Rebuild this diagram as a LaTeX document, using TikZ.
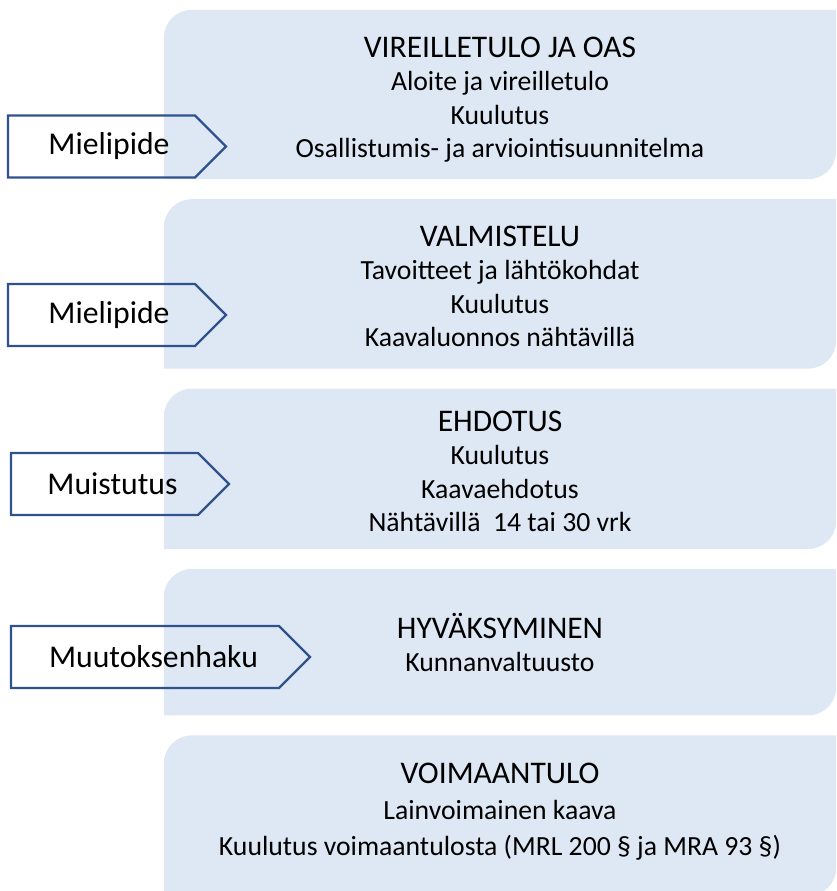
\documentclass[tikz,border=0pt]{standalone}
\usepackage{fontspec}
\setmainfont{Carlito}
\usetikzlibrary{positioning,shapes.symbols,backgrounds}
\definecolor{vaaleansininen}{HTML}{DEE8F4}
\definecolor{tummansininen}{HTML}{2F528F}
\newcommand{\otsikko}[1]{{\fontsize{31.5}{33}\selectfont\rule{0pt}{33.5pt}#1}}

\begin{document}
\begin{tikzpicture}[
        x=1pt, y=1pt,
        node distance=20pt,
        vaihe/.style={minimum width=672pt, align=center, inner sep=0pt, text depth=8pt, font=\fontsize{27.7}{33.5}\selectfont},
        palaute/.style={signal, signal to=east, signal pointer angle=90, draw=tummansininen, line width=2.2pt, inner sep=0pt, minimum height=62pt, font=\fontsize{31.7}{36}\selectfont}
    ]
        \useasboundingbox (0,0) rectangle (836,-891);

        % Vaiheet
        \node [vaihe, minimum height=169pt] (vireille) at (500,-94.5) {\otsikko{VIREILLETULO JA OAS}\\ Aloite ja vireilletulo\\ Kuulutus\\ Osallistumis- ja arviointisuunnitelma};
        \node [vaihe, minimum height=169pt, below=of vireille] (valmistelu) {\otsikko{VALMISTELU}\\ Tavoitteet ja lähtökohdat\\ Kuulutus\\ Kaavaluonnos nähtävillä};
        \node [vaihe, minimum height=160pt, below=of valmistelu] (ehdotus) {\otsikko{EHDOTUS}\\ Kuulutus\\ Kaavaehdotus\\ Nähtävillä~~14 tai 30 vrk};
        \node [vaihe, minimum height=146pt, below=of ehdotus] (hyvaksyminen) {\otsikko{HYVÄKSYMINEN}\\ Kunnanvaltuusto};
        \node [vaihe, minimum height=160pt, text depth=25pt, font=\fontsize{27.7}{36}\selectfont, below=of hyvaksyminen] (voimaantulo) {\otsikko{VOIMAANTULO}\\ Lainvoimainen kaava\\ Kuulutus voimaantulosta (MRL 200 § ja MRA 93 §)};

        % Taustat
        \begin{pgfonlayer}{background}
            \foreach \n in {vireille, valmistelu, ehdotus, hyvaksyminen, voimaantulo}
                \fill[vaaleansininen] (\n.south west) -- ([yshift=-28pt]\n.north west) arc[start angle=180, end angle=90, radius=28pt] -- (\n.north east) -- ([yshift=28pt]\n.south east) arc[start angle=0, end angle=-90, radius=28pt] -- cycle;
        \end{pgfonlayer}

        % Palautteet
        \node [palaute, minimum width=218pt] (mielipide1) at (101.5,-146.5) {\hspace*{15pt}Mielipide};
        \node [palaute, minimum width=218pt] (mielipide2) at (101.5,-315) {\hspace*{15pt}Mielipide};
        \node [palaute, minimum width=218pt] (muistutus) at (104.5,-484) {\hspace*{16pt}Muistutus};
        \node [palaute, minimum width=299pt] (muutoksenhaku) at (145,-657) {\hspace*{17pt}Muutoksenhaku};
\end{tikzpicture}
\end{document}
